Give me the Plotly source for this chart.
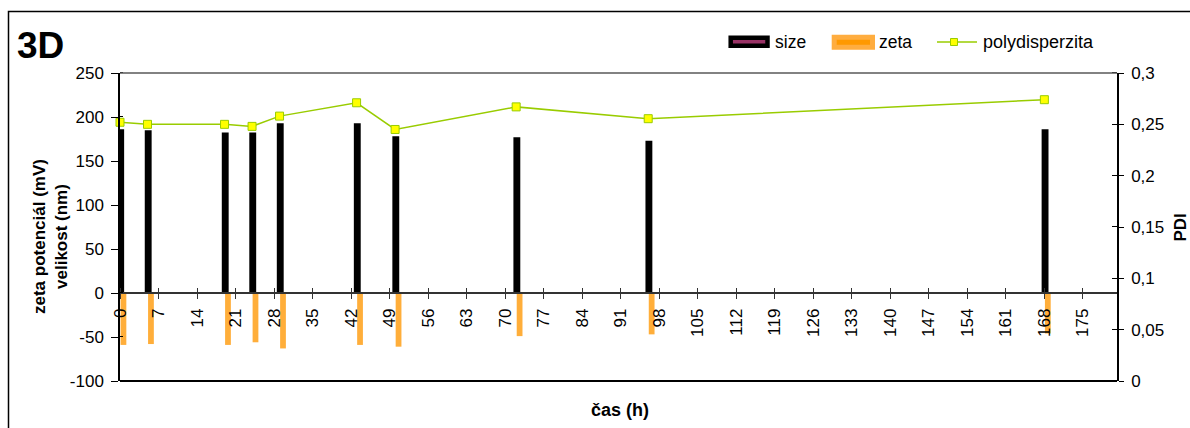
import plotly.graph_objects as go

# Measurement times (hours) and the three measured series
hours = [0, 5, 19, 24, 29, 43, 50, 72, 96, 168]
size_nm = [186, 185, 182.5, 182.5, 193, 193, 178, 177, 173, 186]
zeta_mV = [-59, -58, -59, -56, -63, -59, -61, -49, -47, -46]
pdi = [0.252, 0.250, 0.250, 0.248, 0.258, 0.271, 0.245, 0.267, 0.2555, 0.274]

left_ticks = [-100, -50, 0, 50, 100, 150, 200, 250]
left_labels = ["-100", "-50", "0", "50", "100", "150", "200", "250"]
right_ticks = [0, 0.05, 0.1, 0.15, 0.2, 0.25, 0.3]
right_labels = ["0", "0,05", "0,1", "0,15", "0,2", "0,25", "0,3"]

W, H = 1190, 428
L, R, T, B = 120, 73, 73, 47
PW, PH = W - L - R, H - T - B
FONT = "Liberation Sans, Arial, sans-serif"


def px_x(px):
    return (px - L) / PW


def px_y(py):
    return (H - B - py) / PH


fig = go.Figure()

fig.add_trace(go.Bar(
    x=hours, y=size_nm, name="size",
    width=1.25, offset=-0.5,
    marker=dict(color="#000000", line=dict(width=0)),
    showlegend=False,
))
fig.add_trace(go.Bar(
    x=hours, y=zeta_mV, name="zeta",
    width=1.05, offset=0.1,
    marker=dict(color="#FFAE3A", line=dict(width=0)),
    showlegend=False,
))
fig.add_trace(go.Scatter(
    x=hours, y=pdi, name="polydisperzita", yaxis="y2",
    mode="lines+markers",
    line=dict(color="#99CC00", width=1.5),
    marker=dict(symbol="square", size=8, color="#FFFF00",
                line=dict(color="#99CC00", width=1)),
    cliponaxis=False,
    showlegend=False,
))

tickfont = dict(family=FONT, size=17, color="#000000")

fig.update_layout(
    width=W, height=H,
    margin=dict(l=L, r=R, t=T, b=B, pad=0),
    paper_bgcolor="white", plot_bgcolor="white",
    barmode="overlay",
    font=dict(family=FONT, size=17, color="#000000"),
    xaxis=dict(
        range=[0, 181.2], tick0=0, dtick=7,
        anchor="free", position=100 / 350,
        showline=True, linecolor="#333333", linewidth=1.5,
        ticks="outside", ticklen=5, tickwidth=1.2, tickcolor="#333333",
        minor=dict(ticks="inside", ticklen=4, tickwidth=1.2, tickcolor="#333333",
                   tick0=0.001, dtick=7),
        tickangle=-90, tickfont=tickfont, ticklabelstandoff=3,
        showgrid=False, zeroline=False,
    ),
    yaxis=dict(
        range=[-100, 250], tickvals=left_ticks, ticktext=left_labels,
        showline=True, linecolor="#000000", linewidth=1.5,
        ticks="outside", ticklen=7, tickwidth=1.2, tickcolor="#000000",
        minor=dict(ticks="inside", ticklen=3, tickwidth=1.2, tickcolor="#000000",
                   tick0=0.01, dtick=50),
        tickfont=tickfont, ticklabelstandoff=4,
        showgrid=False, zeroline=False,
    ),
    yaxis2=dict(
        range=[0, 0.3], tickvals=right_ticks, ticktext=right_labels,
        overlaying="y", side="right", anchor="x",
        showline=True, linecolor="#000000", linewidth=1.5,
        ticks="outside", ticklen=5, tickwidth=1.2, tickcolor="#000000",
        minor=dict(ticks="inside", ticklen=5, tickwidth=1.2, tickcolor="#000000",
                   tick0=0.00001, dtick=0.05),
        tickfont=tickfont, ticklabelstandoff=4,
        showgrid=False, zeroline=False,
    ),
)

shapes = [
    # outer chart frame
    dict(type="rect", xref="paper", yref="paper",
         x0=px_x(8.5), x1=px_x(1200), y0=px_y(440), y1=px_y(11.5),
         line=dict(color="#000000", width=1.5), layer="below"),
    # plot area top and bottom edges
    dict(type="line", xref="paper", yref="paper", x0=0, x1=1, y0=1, y1=1,
         line=dict(color="#595959", width=1.5)),
    dict(type="line", xref="paper", yref="paper", x0=0, x1=1, y0=0, y1=0,
         line=dict(color="#000000", width=2)),
    # legend swatches
    dict(type="rect", xref="paper", yref="paper",
         x0=px_x(730.7), x1=px_x(767.5), y0=px_y(45.8), y1=px_y(37.7),
         fillcolor="#993366", line=dict(color="#000000", width=4.5)),
    dict(type="rect", xref="paper", yref="paper",
         x0=px_x(834.2), x1=px_x(872.5), y0=px_y(47.3), y1=px_y(37.3),
         fillcolor="#FF9900", line=dict(color="#FFAD3F", width=5)),
    dict(type="line", xref="paper", yref="paper",
         x0=px_x(937), x1=px_x(977), y0=px_y(42), y1=px_y(42),
         line=dict(color="#99CC00", width=1.5)),
    dict(type="rect", xref="paper", yref="paper",
         x0=px_x(950.5), x1=px_x(957.5), y0=px_y(45.5), y1=px_y(38.5),
         fillcolor="#FFFF00", line=dict(color="#99CC00", width=1)),
]
fig.update_layout(shapes=shapes)

annotations = [
    dict(text="<b>3D</b>", x=px_x(15), y=px_y(45), xanchor="left", yanchor="middle",
         font=dict(family=FONT, size=37, color="#000000")),
    dict(text="<b>zeta potenciál (mV)<br>velikost (nm)</b>", textangle=-90,
         x=px_x(50), y=px_y(237), xanchor="center", yanchor="middle",
         font=dict(family=FONT, size=17, color="#000000")),
    dict(text="<b>PDI</b>", textangle=-90,
         x=px_x(1168), y=px_y(228), xanchor="left", yanchor="middle",
         font=dict(family=FONT, size=17, color="#000000")),
    dict(text="<b>čas (h)</b>", x=px_x(620), y=px_y(410),
         xanchor="center", yanchor="middle",
         font=dict(family=FONT, size=18, color="#000000")),
    dict(text="size", x=px_x(773), y=px_y(42), xanchor="left", yanchor="middle",
         font=dict(family=FONT, size=17.5, color="#000000")),
    dict(text="zeta", x=px_x(877), y=px_y(42), xanchor="left", yanchor="middle",
         font=dict(family=FONT, size=17.5, color="#000000")),
    dict(text="polydisperzita", x=px_x(981), y=px_y(42), xanchor="left", yanchor="middle",
         font=dict(family=FONT, size=18, color="#000000")),
]
for a in annotations:
    a.update(xref="paper", yref="paper", showarrow=False)
fig.update_layout(annotations=annotations)

fig.write_html("out.html")
